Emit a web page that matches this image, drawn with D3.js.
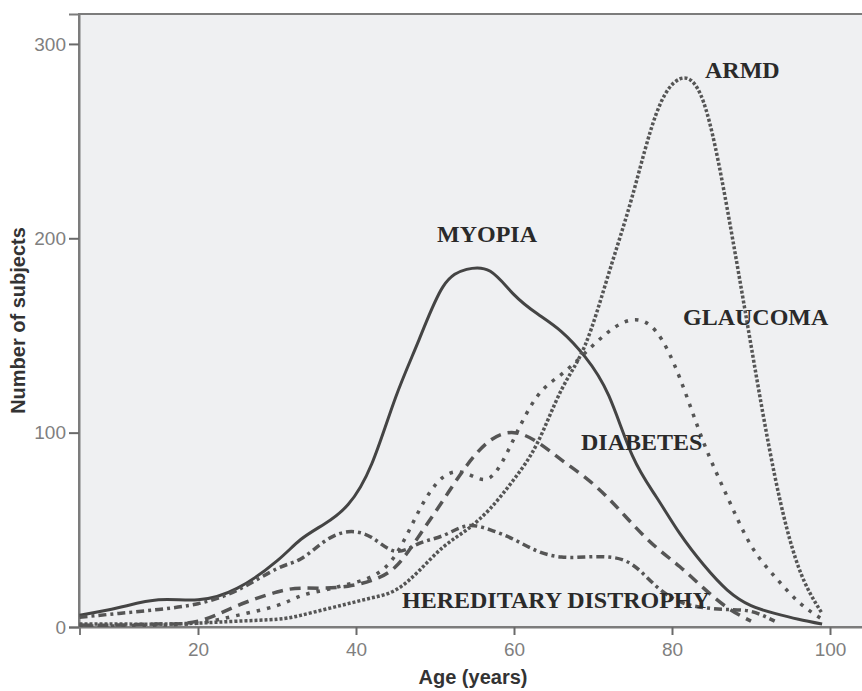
<!DOCTYPE html>
<html>
<head>
<meta charset="utf-8">
<script src="https://cdn.jsdelivr.net/npm/d3@7"></script>
<style>
  body { margin: 0; background: #fff; }
  svg { display: block; }
</style>
</head>
<body>
<div id="chart"></div>
<script>
// sample ages (years)
const ages = [5, 10, 15, 20, 25, 30, 33, 36, 39, 42, 45, 48, 51, 54, 57, 60, 63, 66, 69, 72, 75, 78, 81, 84, 87, 90, 93, 96, 99]

// number of subjects per condition at each age (null = curve has ended)
const myopia     = [6, 10, 14, 14, 20, 34, 45, 53, 63, 84, 118, 148, 175, 184, 183, 171, 161, 152, 139, 119, 88, 67, 48, 32, 19, 11, 7, 4, 1.5]
const armd       = [1.5, 1.5, 1.5, 2, 3, 4, 6, 9, 12, 15, 19, 29, 41, 50, 61, 76, 95, 122, 145, 182, 222, 264, 282, 270, 215, 145, 78, 31, 7]
const glaucoma   = [0.5, 0.5, 1, 2, 6, 11, 16, 19, 22, 26, 37, 60, 77, 79, 77, 97, 119, 130, 141, 152, 158, 152, 128, 95, 67, 42, 26, 13, 4]
const diabetes   = [1, 1, 1.5, 3, 11, 18, 20, 20, 21, 24, 31, 47, 65, 83, 96, 100, 95, 86, 77, 66, 53, 41, 31, 20, 10, 3, null, null, null]
const hereditary = [5, 7, 9, 12, 19, 30, 35, 44, 49, 46, 39, 43, 47, 52, 50, 45, 39, 36, 36, 36, 32, 21, 13, 10, 9, 8, 3, null, null]

const seriesNames = ['MYOPIA', 'ARMD', 'GLAUCOMA', 'DIABETES', 'HEREDITARY DISTROPHY']
const xTicks = [20, 40, 60, 80, 100]
const yTicks = [0, 100, 200, 300]

const W = 862, H = 691
const plot = { left: 79, right: 870, top: 14, bottom: 627 }

const svg = d3.select('#chart')
  .append('svg')
  .attr('width', W)
  .attr('height', H)

const x = d3.scaleLinear()
  .domain([5, 105])
  .range([plot.left + 0.5, plot.right - 0.5])

const y = d3.scaleLinear()
  .domain([0, 315.4])
  .range([plot.bottom, plot.top])

// plot background + frame
svg.append('rect')
  .attr('x', plot.left)
  .attr('y', plot.top)
  .attr('width', plot.right - plot.left)
  .attr('height', plot.bottom - plot.top)
  .attr('fill', '#eff0f2')
  .attr('stroke', '#7c7c7c')
  .attr('stroke-width', 2)

svg.append('clipPath').attr('id', 'clip')
  .append('rect')
  .attr('x', plot.left)
  .attr('y', plot.top)
  .attr('width', plot.right - plot.left)
  .attr('height', plot.bottom - plot.top)

// axes
const leftAxis = d3.axisLeft(y).tickValues(yTicks).tickSize(10).tickPadding(3)
const bottomAxis = d3.axisBottom(x).tickValues(xTicks).tickSize(8).tickPadding(8)

const gy = svg.append('g')
  .attr('transform', `translate(${plot.left}, 0)`)
  .call(leftAxis)

const gx = svg.append('g')
  .attr('transform', `translate(0, ${plot.bottom})`)
  .call(bottomAxis)

for (const g of [gx, gy]) {
  g.select('.domain').attr('stroke', '#7c7c7c').attr('stroke-width', 2)
  g.selectAll('.tick line').attr('stroke', '#6a6a6a').attr('stroke-width', 2)
  g.selectAll('.tick text')
    .attr('fill', '#7f7f7f')
    .style('font-family', 'Arial, "Liberation Sans", sans-serif')
    .style('font-size', '19px')
}

// axis titles
svg.append('text')
  .attr('transform', `translate(25, ${(plot.top + plot.bottom) / 2}) rotate(-90)`)
  .attr('text-anchor', 'middle')
  .style('font-family', 'Arial, "Liberation Sans", sans-serif')
  .style('font-size', '20px')
  .style('font-weight', 'bold')
  .attr('fill', '#333')
  .text('Number of subjects')

svg.append('text')
  .attr('x', 473)
  .attr('y', 684)
  .attr('text-anchor', 'middle')
  .style('font-family', 'Arial, "Liberation Sans", sans-serif')
  .style('font-size', '20px')
  .style('font-weight', 'bold')
  .attr('fill', '#333')
  .text('Age (years)')

// curves
const styles = [
  { values: myopia, dash: null, width: 3, color: '#444' },
  { values: armd, dash: '3,2', width: 3.5, color: '#555' },
  { values: glaucoma, dash: '3.5,7', width: 3.5, color: '#555' },
  { values: diabetes, dash: '11,7', width: 3.5, color: '#555' },
  { values: hereditary, dash: '8,4,3,4', width: 3.5, color: '#555' }
]

const line = d3.line()
  .defined(d => d.v != null)
  .x(d => x(d.age))
  .y(d => y(d.v))
  .curve(d3.curveNatural)

const curves = svg.append('g').attr('clip-path', 'url(#clip)')

styles.forEach((s, i) => {
  const pts = ages.map((a, k) => ({ age: a, v: s.values[k] }))
  curves.append('path')
    .datum(pts)
    .attr('fill', 'none')
    .attr('stroke', s.color)
    .attr('stroke-width', s.width)
    .attr('stroke-dasharray', s.dash)
    .attr('d', line)
})

// series labels (placed where the picture has them)
const labelPos = [
  { x: 437, y: 242 },
  { x: 705, y: 78 },
  { x: 683, y: 325 },
  { x: 581, y: 450 },
  { x: 402, y: 608 }
]

seriesNames.forEach((name, i) => {
  svg.append('text')
    .attr('x', labelPos[i].x)
    .attr('y', labelPos[i].y)
    .style('font-family', '"Liberation Serif", "Times New Roman", serif')
    .style('font-size', '24px')
    .style('font-weight', 'bold')
    .attr('fill', '#2a2a2a')
    .text(name)
})
</script>
</body>
</html>
